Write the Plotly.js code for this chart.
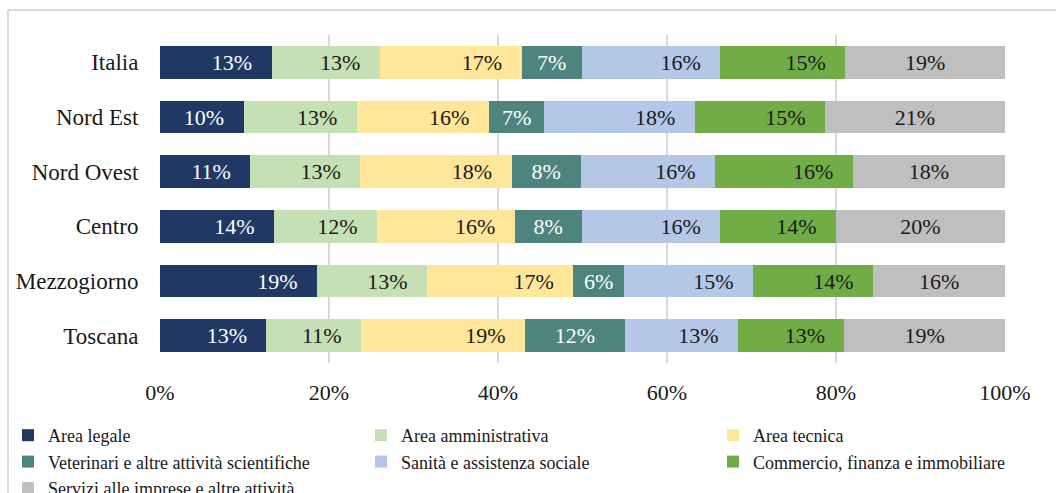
<!DOCTYPE html>
<html>
<head>
<meta charset="utf-8">
<script src="https://cdn.plot.ly/plotly-3.0.1.min.js"></script>
<style>html,body{margin:0;padding:0;background:#fff;}#chart{width:1056px;height:493px;}</style>
</head>
<body>
<div id="chart"></div>
<script>
const regions = ["Italia", "Nord Est", "Nord Ovest", "Centro", "Mezzogiorno", "Toscana"];
const seriesNames = [
  "Area legale",
  "Area amministrativa",
  "Area tecnica",
  "Veterinari e altre attività scientifiche",
  "Sanità e assistenza sociale",
  "Commercio, finanza e immobiliare",
  "Servizi alle imprese e altre attività"
];
const areaLegale         = [13.2, 9.9, 10.7, 13.5, 18.6, 12.6];
const areaAmministrativa = [12.8, 13.4, 13.0, 12.2, 13.0, 11.2];
const areaTecnica        = [16.8, 15.6, 17.9, 16.3, 17.3, 19.4];
const veterinari         = [7.1, 6.6, 8.2, 7.9, 6.0, 11.8];
const sanita             = [16.4, 17.8, 15.9, 16.4, 15.3, 13.4];
const commercio          = [14.8, 15.4, 16.3, 13.7, 14.2, 12.6];
const servizi            = [18.9, 21.3, 18.0, 20.0, 15.6, 19.0];
const xTickVals  = [0, 20, 40, 60, 80, 100];
const xTickTexts = ["0%", "20%", "40%", "60%", "80%", "100%"];

const seriesValues = [areaLegale, areaAmministrativa, areaTecnica, veterinari, sanita, commercio, servizi];
const colors = ["#203864", "#c5e0b4", "#ffe699", "#4d857e", "#b4c7e7", "#70ad47", "#bfbfbf"];
const textColors = ["#ffffff", "#1a1a1a", "#1a1a1a", "#ffffff", "#1a1a1a", "#1a1a1a", "#1a1a1a"];
const anchorEnd = [true, true, true, false, true, true, false];
const legendIds = ["legend", "legend2", "legend3", "legend", "legend2", "legend3", "legend"];
const FONT = "Liberation Serif, Times New Roman, serif";
const PAD = "\u00a0\u00a0\u00a0";

const traces = seriesValues.map((vals, i) => ({
  type: "bar",
  orientation: "h",
  name: seriesNames[i],
  legend: legendIds[i],
  y: regions,
  x: vals,
  text: vals.map(v => Math.round(v) + "%" + (anchorEnd[i] ? PAD : "")),
  textposition: "inside",
  insidetextanchor: anchorEnd[i] ? "end" : "middle",
  textfont: {family: FONT, size: 22, color: textColors[i]},
  marker: {color: colors[i], line: {width: 0}},
  hoverinfo: "skip",
  cliponaxis: false
}));

const legendBase = {
  orientation: "v",
  yanchor: "top",
  y: -0.1646,
  xanchor: "left",
  traceorder: "normal",
  tracegroupgap: 0,
  font: {family: FONT, size: 18, color: "#1a1a1a"},
  bgcolor: "rgba(0,0,0,0)",
  borderwidth: 0,
  itemclick: false, itemdoubleclick: false
};

const layout = {
  width: 1056, height: 493,
  margin: {l: 160, r: 51, t: 35, b: 130, autoexpand: false},
  paper_bgcolor: "#ffffff",
  plot_bgcolor: "#ffffff",
  barmode: "stack",
  bargap: 0.4,
  font: {family: FONT, size: 22, color: "#1a1a1a"},
  uniformtext: {mode: "show", minsize: 8},
  xaxis: {
    range: [0, 100],
    tickvals: xTickVals,
    ticktext: xTickTexts,
    showgrid: true,
    gridcolor: "#d9d9d9",
    gridwidth: 2,
    zeroline: false,
    showline: false,
    ticks: "outside",
    ticklen: 10,
    tickcolor: "rgba(0,0,0,0)",
    tickfont: {family: FONT, size: 22, color: "#1a1a1a"},
    fixedrange: true
  },
  yaxis: {
    autorange: "reversed",
    showgrid: false,
    zeroline: false,
    showline: false,
    ticks: "outside",
    ticklen: 16,
    tickcolor: "rgba(0,0,0,0)",
    tickfont: {family: FONT, size: 23, color: "#1a1a1a"},
    fixedrange: true
  },
  showlegend: true,
  legend:  Object.assign({}, legendBase, {x: -0.1799}),
  legend2: Object.assign({}, legendBase, {x: 0.2379}),
  legend3: Object.assign({}, legendBase, {x: 0.6544}),
  shapes: [
    {type: "line", xref: "paper", yref: "paper", x0: -0.1799, x1: -0.1799, y0: 1.076, y1: -0.6, line: {color: "#d9d9d9", width: 2}},
    {type: "line", xref: "paper", yref: "paper", x0: -0.1799, x1: 1.1, y0: 1.076, y1: 1.076, line: {color: "#d9d9d9", width: 2}}
  ]
};

Plotly.newPlot("chart", traces, layout, {displayModeBar: false, staticPlot: true});
</script>
</body>
</html>
